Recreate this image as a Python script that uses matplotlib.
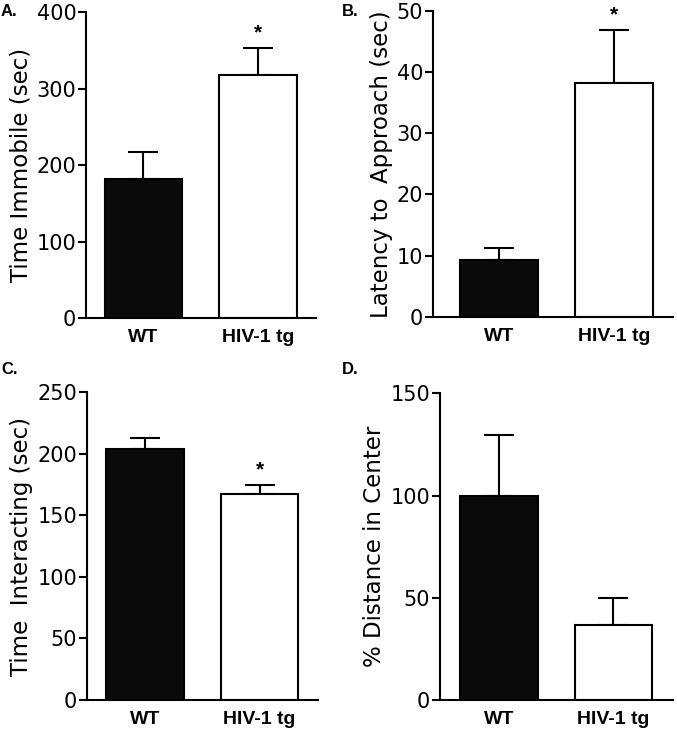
import matplotlib
matplotlib.use("Agg")
import matplotlib.pyplot as plt

plt.rcParams['font.family'] = ['DejaVu Sans']

groups = ["WT", "HIV-1 tg"]

immobile_mean = [182, 317]
immobile_sem = [35, 36]

latency_mean = [9.3, 38.2]
latency_sem = [2.0, 8.6]

interact_mean = [204, 167]
interact_sem = [8.5, 8.0]

center_mean = [100, 36.5]
center_sem = [29.5, 13.2]

panels = [
    dict(label="A.", mean=immobile_mean, sem=immobile_sem, ylabel="Time Immobile (sec)",
         ylim=(0, 400), ticks=[0, 100, 200, 300, 400], star=[False, True],
         pos=[86/677, 1-318/735, 230/677, 306/735], xlim=(-0.502, 1.507),
         lab_xy=(1/677, 1-12/735)),
    dict(label="B.", mean=latency_mean, sem=latency_sem, ylabel="Latency to  Approach (sec)",
         ylim=(0, 50), ticks=[0, 10, 20, 30, 40, 50], star=[False, True],
         pos=[433/677, 1-316.7/735, 240/677, 306/735], xlim=(-0.574, 1.513),
         lab_xy=(342/677, 1-12/735)),
    dict(label="C.", mean=interact_mean, sem=interact_sem, ylabel="Time  Interacting (sec)",
         ylim=(0, 250), ticks=[0, 50, 100, 150, 200, 250], star=[False, True],
         pos=[87/677, 1-700/735, 231/677, 307.7/735], xlim=(-0.507, 1.511),
         lab_xy=(1/677, 1-370/735)),
    dict(label="D.", mean=center_mean, sem=center_sem, ylabel="% Distance in Center",
         ylim=(0, 150), ticks=[0, 50, 100, 150], star=[False, False],
         pos=[440/677, 1-700/735, 233/677, 306.7/735], xlim=(-0.515, 1.52),
         lab_xy=(342/677, 1-370/735)),
]

fig = plt.figure(figsize=(6.77, 7.35), dpi=100)

for p in panels:
    ax = fig.add_axes(p["pos"])
    x = [0, 1]
    ax.bar(x, p["mean"], width=0.675, color=["#0a0a0a", "white"], edgecolor="black",
           linewidth=1.5, zorder=2)
    ax.errorbar(x, p["mean"], yerr=[[0, 0], p["sem"]], fmt="none", ecolor="black",
                elinewidth=1.5, capsize=10.5, capthick=1.5, zorder=1)
    for i, s in enumerate(p["star"]):
        if s:
            ax.annotate("*", xy=(x[i], p["mean"][i] + p["sem"][i]), xytext=(0, 4),
                        textcoords="offset points", ha="center", va="bottom",
                        fontsize=15, fontweight="bold", family="Liberation Sans")
    ax.set_ylim(*p["ylim"])
    ax.set_xlim(*p["xlim"])
    ax.set_yticks(p["ticks"])
    ax.set_xticks(x)
    ax.set_xticklabels(groups, fontsize=14, fontweight="bold", family="Liberation Sans")
    ax.tick_params(axis="y", labelsize=15, width=1.5, length=6, pad=1)
    ax.tick_params(axis="x", length=0, pad=8)
    for side in ["top", "right"]:
        ax.spines[side].set_visible(False)
    for side in ["left", "bottom"]:
        ax.spines[side].set_linewidth(1.5)
    ax.set_ylabel(p["ylabel"], fontsize=16.5, labelpad=3)
    fig.text(p["lab_xy"][0], p["lab_xy"][1], p["label"], fontsize=12, fontweight="bold",
             ha="left", va="center", family="Liberation Sans")

fig.savefig("out.png", dpi=100)
